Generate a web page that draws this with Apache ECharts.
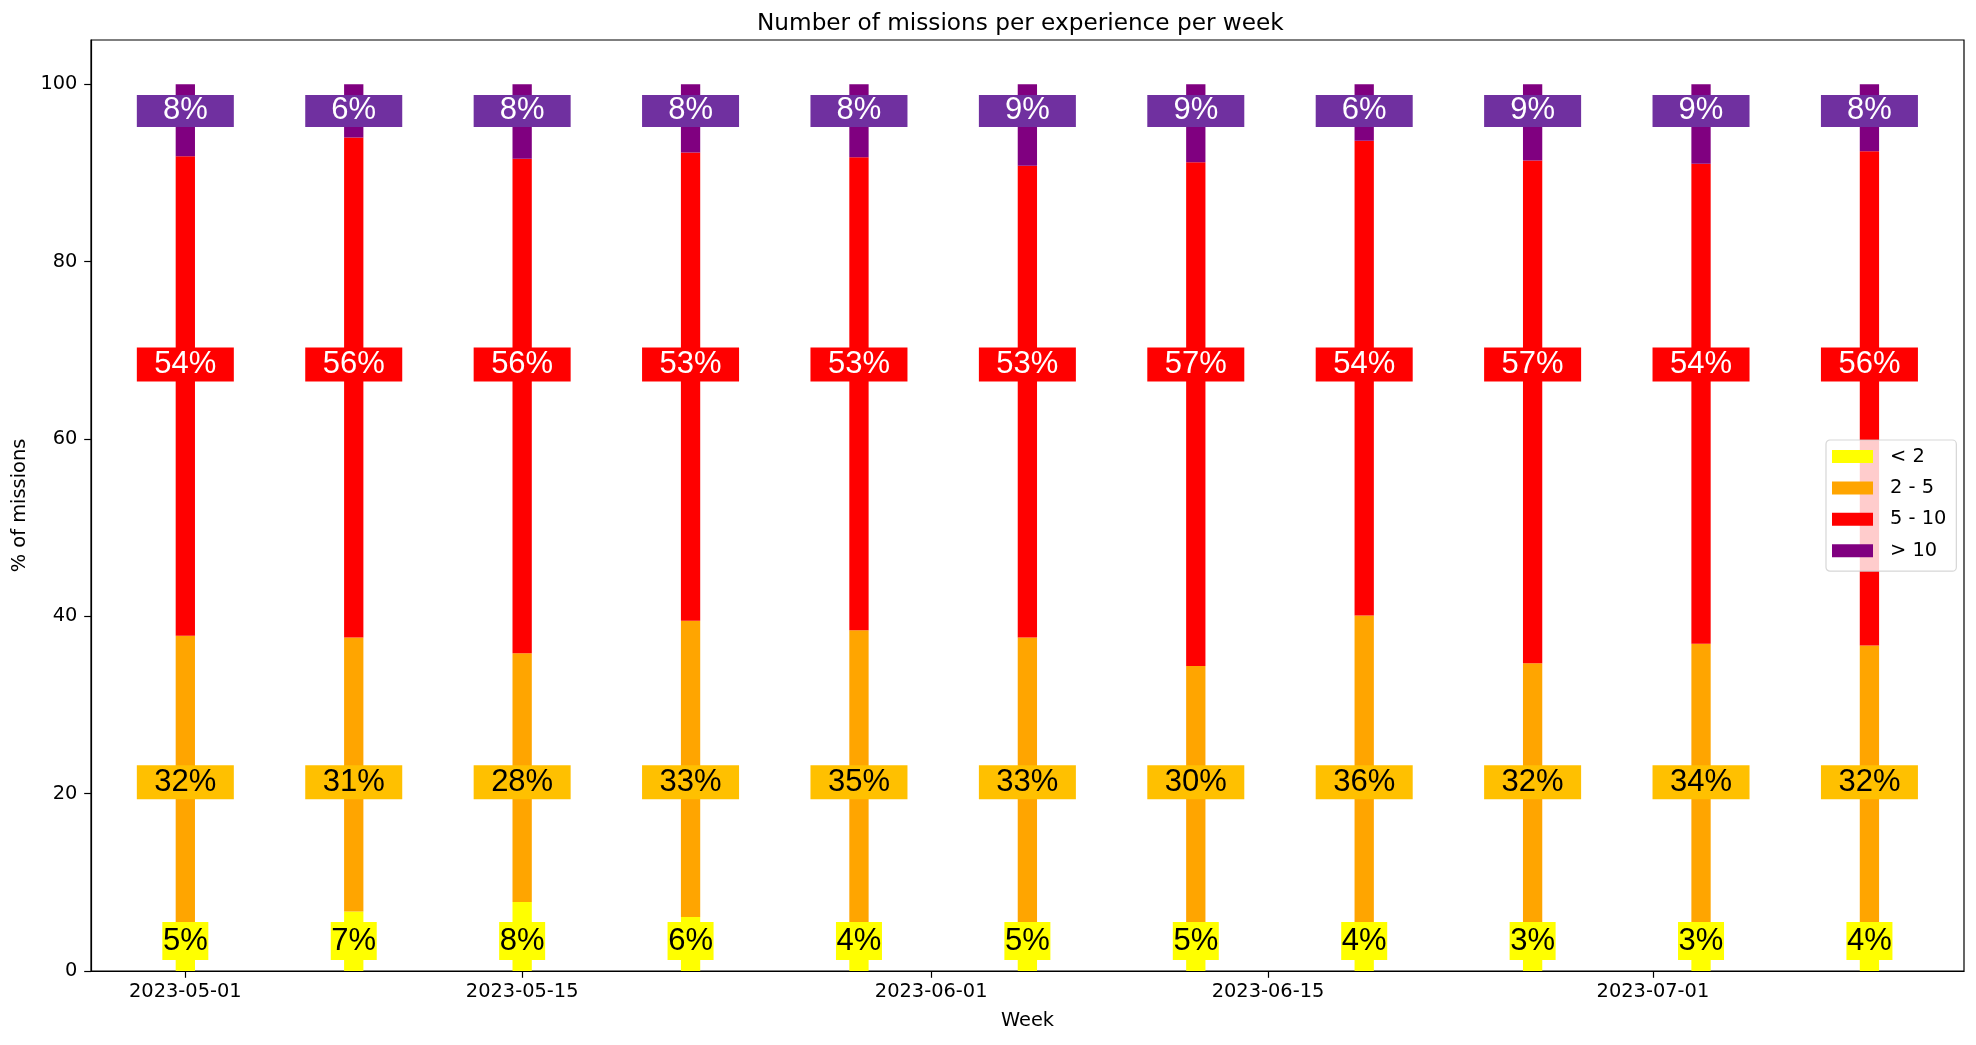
<!DOCTYPE html>
<html>
<head>
<meta charset="utf-8">
<title>Number of missions per experience per week</title>
<script src="https://cdn.jsdelivr.net/npm/echarts@6/dist/echarts.min.js"></script>
<style>
  html, body { margin: 0; padding: 0; background: #fff; }
  #chart { width: 1976px; height: 1045px; }
</style>
</head>
<body>
<div id="chart"></div>
<script>
// one bar per week (Mondays), values are % of missions
const weeks = ['2023-05-01', '2023-05-08', '2023-05-15', '2023-05-22', '2023-05-29', '2023-06-05',
  '2023-06-12', '2023-06-19', '2023-06-26', '2023-07-03', '2023-07-10'];
const lt2 = [5.45, 6.7, 7.78, 6.1, 3.8, 4.8, 4.8, 4.2, 3.0, 3.0, 4.3];
const from2to5 = [32.35, 30.9, 28.07, 33.4, 34.64, 32.82, 29.6, 35.9, 31.7, 33.9, 32.4];
const from5to10 = [54.1, 56.4, 55.75, 52.8, 53.33, 53.21, 56.8, 53.55, 56.7, 54.15, 55.75];
const gt10 = [8.1, 6.0, 8.4, 7.7, 8.23, 9.17, 8.8, 6.35, 8.6, 8.95, 7.55];

const xTickLabels = ['2023-05-01', '2023-05-15', '2023-06-01', '2023-06-15', '2023-07-01'];
const yTicks = [0, 20, 40, 60, 80, 100];

// local-time timestamp
const toTs = (s) => {
  const p = s.split(/[- :]/).map(Number);
  return new Date(p[0], p[1] - 1, p[2], p[3] || 0, p[4] || 0).getTime();
};
const pad = (n) => (n < 10 ? '0' : '') + n;
const fmtDay = (v) => {
  const d = new Date(v);
  return d.getFullYear() + '-' + pad(d.getMonth() + 1) + '-' + pad(d.getDate());
};

const axisFont = 'DejaVu Sans';
const labelFont = 'Liberation Sans';

const GRID = { left: 91, right: 12, top: 40, bottom: 74 };
const BAR_W = 19.3;
const xMin = toTs('2023-04-27 01:54');
const xMax = toTs('2023-07-13 22:20');
// echarts widens a time axis carrying bars by one bar width;
// give it a slightly narrower range so it ends up on xMin..xMax
const axisLen = 1976 - GRID.left - GRID.right;
const trim = (xMax - xMin) * (BAR_W / axisLen) / 2;

const groups = [
  { name: '< 2', values: lt2, color: '#ffff00', boxColor: '#ffff00', textColor: '#000', level: 3.38, w: 46, h: 38 },
  { name: '2 - 5', values: from2to5, color: '#ffa500', boxColor: '#ffc000', textColor: '#000', level: 21.3, w: 97, h: 34 },
  { name: '5 - 10', values: from5to10, color: '#ff0000', boxColor: '#ff0000', textColor: '#fff', level: 68.4, w: 97, h: 34 },
  { name: '> 10', values: gt10, color: '#800080', boxColor: '#7030a0', textColor: '#fff', level: 97, w: 97, h: 32 },
];

const barSeries = groups.map((g) => ({
  name: g.name,
  type: 'bar',
  stack: 'total',
  barWidth: BAR_W,
  xAxisIndex: 0,
  itemStyle: { color: g.color },
  emphasis: { disabled: true },
  data: weeks.map((w, i) => [toTs(w), g.values[i]]),
  z: 2,
}));

// percentage boxes sit at a fixed height for each group
const labelSeries = groups.map((g) => ({
  name: 'label ' + g.name,
  type: 'scatter',
  xAxisIndex: 0,
  symbol: 'rect',
  symbolSize: 0.1,
  itemStyle: { color: 'rgba(0,0,0,0)', opacity: 1 },
  silent: true,
  z: 5,
  data: weeks.map((w, i) => [toTs(w), g.level, g.values[i]]),
  label: {
    show: true,
    position: 'inside',
    formatter: (p) => Math.round(p.value[2]) + '%',
    width: g.w,
    height: g.h,
    lineHeight: g.h,
    align: 'center',
    verticalAlign: 'middle',
    padding: 0,
    backgroundColor: g.boxColor,
    color: g.textColor,
    fontFamily: labelFont,
    fontSize: 31,
  },
}));

const chart = echarts.init(document.getElementById('chart'));

chart.setOption({
  animation: false,
  backgroundColor: '#fff',
  title: {
    text: 'Number of missions per experience per week',
    left: 752,
    top: 7,
    textStyle: { fontFamily: axisFont, fontSize: 23.2, fontWeight: 'normal', color: '#000' },
  },
  grid: {
    left: GRID.left, right: GRID.right, top: GRID.top, bottom: GRID.bottom,
    show: true, borderColor: '#000', borderWidth: 1.2, backgroundColor: '#fff',
  },
  legend: {
    data: groups.map((g) => g.name),
    orient: 'vertical',
    left: 1826,
    top: 440,
    icon: 'rect',
    itemWidth: 41,
    itemHeight: 13,
    itemGap: 12.4,
    padding: [7, 10, 11, 6],
    backgroundColor: 'rgba(255,255,255,0.8)',
    borderColor: 'rgba(204,204,204,0.8)',
    borderWidth: 1.2,
    borderRadius: 4,
    selectedMode: false,
    textStyle: { fontFamily: axisFont, fontSize: 19.4, color: '#000', padding: [0, 0, 0, 12] },
  },
  xAxis: [
    {
      // time axis carries the bars
      type: 'time',
      min: xMin + trim,
      max: xMax - trim,
      position: 'bottom',
      name: 'Week',
      nameLocation: 'middle',
      nameGap: 40,
      nameTextStyle: { fontFamily: axisFont, fontSize: 19.4, color: '#000' },
      axisLine: { lineStyle: { color: '#000', width: 1.2 } },
      axisTick: { show: false },
      axisLabel: { show: false },
      splitLine: { show: false },
    },
    {
      // same range, only for the dated ticks
      type: 'value',
      min: xMin,
      max: xMax,
      position: 'bottom',
      offset: 0,
      axisLine: { show: false },
      axisTick: {
        show: true,
        customValues: xTickLabels.map(toTs),
        length: 6.8,
        lineStyle: { color: '#000', width: 1.2 },
      },
      axisLabel: {
        customValues: xTickLabels.map(toTs),
        formatter: (v) => fmtDay(v),
        fontFamily: axisFont,
        fontSize: 19.4,
        color: '#000',
        margin: 11,
      },
      splitLine: { show: false },
    },
  ],
  yAxis: {
    type: 'value',
    min: 0,
    max: 105,
    name: '% of missions',
    nameLocation: 'middle',
    nameGap: 60,
    nameTextStyle: { fontFamily: axisFont, fontSize: 19.4, color: '#000' },
    axisLine: { show: true, lineStyle: { color: '#000', width: 1.2 } },
    axisTick: {
      show: true,
      customValues: yTicks,
      length: 6.8,
      lineStyle: { color: '#000', width: 1.2 },
    },
    axisLabel: {
      customValues: yTicks,
      fontFamily: axisFont,
      fontSize: 19.4,
      color: '#000',
      margin: 13.6,
    },
    splitLine: { show: false },
  },
  series: barSeries.concat(labelSeries),
});

window.addEventListener('resize', () => chart.resize());
</script>
</body>
</html>
